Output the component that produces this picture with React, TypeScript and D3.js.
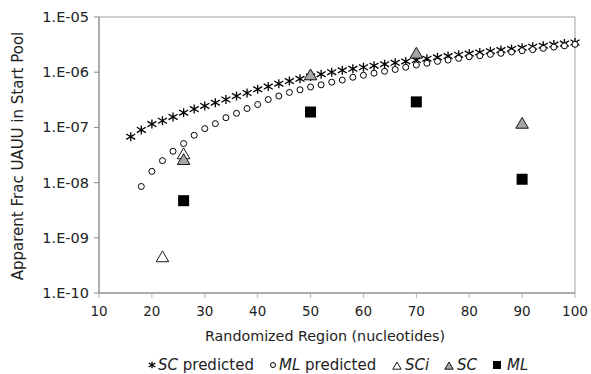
import * as d3 from "d3";

// SC predicted, every 2 nt from 16 to 100
const scPredX = d3.range(16, 101, 2);
const scPredY = [
  6.8e-8, 9.0e-8, 1.15e-7, 1.32e-7, 1.55e-7, 1.85e-7, 2.15e-7, 2.45e-7, 2.8e-7,
  3.2e-7, 3.7e-7, 4.2e-7, 4.9e-7, 5.5e-7, 6.2e-7, 6.9e-7, 7.6e-7, 8.4e-7, 9.2e-7,
  1.0e-6, 1.08e-6, 1.15e-6, 1.23e-6, 1.31e-6, 1.4e-6, 1.48e-6, 1.57e-6, 1.66e-6,
  1.76e-6, 1.86e-6, 1.96e-6, 2.07e-6, 2.17e-6, 2.28e-6, 2.4e-6, 2.52e-6, 2.64e-6,
  2.76e-6, 2.89e-6, 3.02e-6, 3.16e-6, 3.3e-6, 3.45e-6,
];

// ML predicted, every 2 nt from 18 to 100
const mlPredX = d3.range(18, 101, 2);
const mlPredY = [
  8.5e-9, 1.6e-8, 2.5e-8, 3.7e-8, 5.1e-8, 7.2e-8, 9.5e-8, 1.17e-7, 1.5e-7, 1.8e-7,
  2.2e-7, 2.6e-7, 3.2e-7, 3.7e-7, 4.3e-7, 4.8e-7, 5.4e-7, 5.9e-7, 6.6e-7, 7.2e-7,
  8.1e-7, 8.8e-7, 9.6e-7, 1.04e-6, 1.12e-6, 1.23e-6, 1.35e-6, 1.45e-6, 1.57e-6,
  1.66e-6, 1.78e-6, 1.9e-6, 1.99e-6, 2.1e-6, 2.2e-6, 2.32e-6, 2.45e-6, 2.56e-6,
  2.7e-6, 2.85e-6, 3.0e-6, 3.2e-6,
];

const sciX = [22, 26];
const sciY = [4.5e-10, 3.3e-8];

const scX = [26, 50, 70, 90];
const scY = [2.6e-8, 8.9e-7, 2.2e-6, 1.18e-7];

const mlX = [26, 50, 70, 90];
const mlY = [4.7e-9, 1.9e-7, 2.9e-7, 1.15e-8];

const xTicks = [10, 20, 30, 40, 50, 60, 70, 80, 90, 100];
const yTicks = [1e-10, 1e-9, 1e-8, 1e-7, 1e-6, 1e-5];
const yTickLabels = ["1.E-10", "1.E-09", "1.E-08", "1.E-07", "1.E-06", "1.E-05"];

const FONT = "DejaVu Sans, Verdana, sans-serif";

const Star = ({ x, y, s = 4.5 }) => (
  <path
    d={`M${x},${y - s}V${y + s}M${x - s},${y - s * 0.6}L${x + s},${y + s * 0.6}M${x - s},${y + s * 0.6}L${x + s},${y - s * 0.6}`}
    stroke="#000"
    strokeWidth={1.3}
    fill="none"
  />
);

const Tri = ({ x, y, s = 6, fill }) => (
  <path
    d={`M${x},${y - s}L${x + s * 1.05},${y + s * 0.8}L${x - s * 1.05},${y + s * 0.8}Z`}
    fill={fill}
    stroke="#000"
    strokeWidth={0.9}
  />
);

export default function App() {
  const width = 591;
  const height = 374;
  const margin = { left: 99, right: 16, top: 17, bottom: 81 };

  const x = d3
    .scaleLinear()
    .domain([10, 100])
    .range([margin.left, width - margin.right]);
  const y = d3
    .scaleLog()
    .domain([1e-10, 1e-5])
    .range([height - margin.bottom, margin.top]);

  const [x0, x1] = x.range();
  const [y0, y1] = y.range();

  return (
    <div style={{ position: "fixed", left: 0, top: 0 }}>
      <svg width={width} height={height} style={{ display: "block", background: "#fff" }}>
        {/* frame */}
        <rect x={x0} y={y1} width={x1 - x0} height={y0 - y1} fill="none" stroke="#a0a0a0" strokeWidth={1} />
        <line x1={x0} x2={x0} y1={y1} y2={y0} stroke="#8a8a8a" />
        <line x1={x0} x2={x1} y1={y0} y2={y0} stroke="#8a8a8a" />

        {/* y axis ticks */}
        {yTicks.map((t, i) => (
          <g key={`yt-${i}`}>
            <line x1={x0 - 5} x2={x0} y1={y(t)} y2={y(t)} stroke="#8a8a8a" />
            <text
              x={x0 - 10}
              y={y(t)}
              dy="0.35em"
              textAnchor="end"
              fontFamily={FONT}
              fontSize={14.5}
              fill="#222"
            >
              {yTickLabels[i]}
            </text>
          </g>
        ))}

        {/* x axis ticks */}
        {xTicks.map((t) => (
          <g key={`xt-${t}`}>
            <line x1={x(t)} x2={x(t)} y1={y0} y2={y0 + 5} stroke="#b0b0b0" />
            <text x={x(t)} y={y0 + 23} textAnchor="middle" fontFamily={FONT} fontSize={13.5} fill="#222">
              {t}
            </text>
          </g>
        ))}

        <text x={325} y={341} textAnchor="middle" fontFamily={FONT} fontSize={14.3} fill="#222">
          Randomized Region (nucleotides)
        </text>
        <text
          transform={`translate(18,156) rotate(-90)`}
          dy="0.35em"
          textAnchor="middle"
          fontFamily={FONT}
          fontSize={15}
          fill="#222"
        >
          Apparent Frac UAUU in Start Pool
        </text>

        {/* series */}
        {scPredX.map((d, i) => (
          <Star key={`scp-${i}`} x={x(d)} y={y(scPredY[i])} />
        ))}
        {mlPredX.map((d, i) => (
          <circle key={`mlp-${i}`} cx={x(d)} cy={y(mlPredY[i])} r={3} fill="#fff" stroke="#000" strokeWidth={1} />
        ))}
        {sciX.map((d, i) => (
          <Tri key={`sci-${i}`} x={x(d)} y={y(sciY[i])} fill="#fff" />
        ))}
        {scX.map((d, i) => (
          <Tri key={`sc-${i}`} x={x(d)} y={y(scY[i])} fill="#a6a6a6" />
        ))}
        {mlX.map((d, i) => (
          <rect key={`ml-${i}`} x={x(d) - 5.5} y={y(mlY[i]) - 5.5} width={11} height={11} fill="#000" />
        ))}

        {/* legend */}
        <g fontFamily={FONT} fontSize={15} fill="#222">
          <Star x={152} y={365} s={3.3} />
          <text x={158} y={370}>
            <tspan fontStyle="italic">SC</tspan> predicted
          </text>
          <circle cx={273} cy={365} r={2.5} fill="#fff" stroke="#000" />
          <text x={279} y={370}>
            <tspan fontStyle="italic">ML</tspan> predicted
          </text>
          <Tri x={397} y={366} s={4} fill="#fff" />
          <text x={405} y={370} fontStyle="italic">
            SCi
          </text>
          <Tri x={449} y={366} s={4} fill="#a6a6a6" />
          <text x={457} y={370} fontStyle="italic">
            SC
          </text>
          <rect x={493} y={361} width={8} height={8} fill="#000" />
          <text x={507} y={370} fontStyle="italic">
            ML
          </text>
        </g>
      </svg>
    </div>
  );
}
